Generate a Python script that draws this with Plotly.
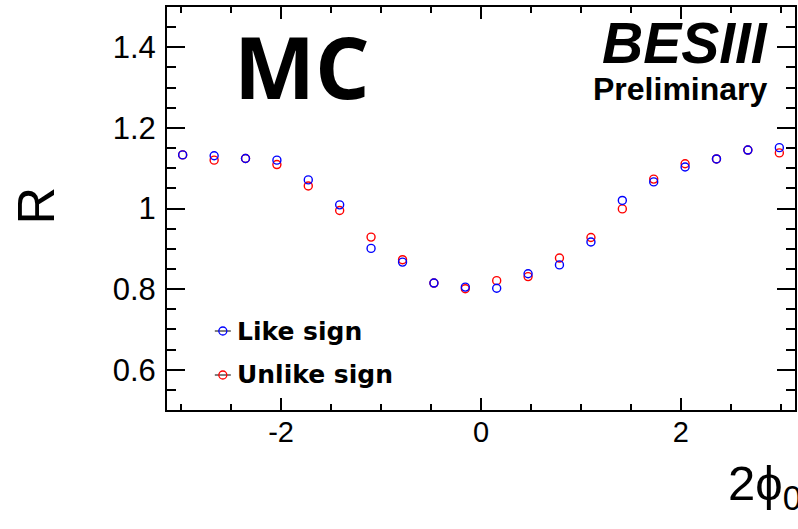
import plotly.graph_objects as go

# Bin centres of the 2*phi0 histogram (20 bins over [-pi, pi])
phi_centres = [-2.985, -2.670, -2.356, -2.042, -1.728, -1.414, -1.100, -0.785,
               -0.471, -0.157, 0.157, 0.471, 0.785, 1.100, 1.414, 1.728,
               2.042, 2.356, 2.670, 2.985]

# Ratio R for like-sign and unlike-sign pairs (MC)
r_like = [1.133, 1.131, 1.124, 1.120, 1.071, 1.009, 0.901, 0.867, 0.815, 0.805,
          0.802, 0.838, 0.860, 0.917, 1.020, 1.066, 1.103, 1.123, 1.145, 1.151]
r_unlike = [1.133, 1.120, 1.124, 1.109, 1.056, 0.995, 0.929, 0.873, 0.815, 0.801,
            0.821, 0.831, 0.877, 0.928, 0.999, 1.073, 1.111, 1.123, 1.145, 1.138]

x_tick_vals = [-2, 0, 2]
x_tick_text = ["-2", "0", "2"]
y_tick_vals = [0.6, 0.8, 1.0, 1.2, 1.4]
y_tick_text = ["0.6", "0.8", "1", "1.2", "1.4"]

PI = 3.141592653589793
W, H = 798, 529
L, R, T, B = 167, 1, 7, 119
PW, PH = W - L - R, H - T - B


def px(x):
    return (x - L) / PW


def py(y):
    return (H - B - y) / PH


fig = go.Figure()
fig.add_trace(go.Scatter(
    x=phi_centres, y=r_unlike, mode="markers", name="Unlike sign",
    marker=dict(symbol="circle-open", size=8, color="#ff0000",
                line=dict(width=1.4, color="#ff0000")),
    showlegend=False))
fig.add_trace(go.Scatter(
    x=phi_centres, y=r_like, mode="markers", name="Like sign",
    marker=dict(symbol="circle-open", size=8, color="#0000ff",
                line=dict(width=1.4, color="#0000ff")),
    showlegend=False))

axis_common = dict(
    showline=True, linewidth=2, linecolor="black", mirror="allticks",
    ticks="inside", tickwidth=2, tickcolor="black", showgrid=False,
    zeroline=False, tickmode="array",
)
fig.update_xaxes(
    range=[-PI, PI], tickvals=x_tick_vals, ticktext=x_tick_text, ticklen=12,
    tickfont=dict(family="Liberation Sans", size=29, color="black"),
    minor=dict(ticks="inside", dtick=0.5, tick0=0, ticklen=6, tickwidth=2,
               tickcolor="black"),
    ticklabelstandoff=-5,
    **axis_common)
fig.update_yaxes(
    range=[0.5, 1.5], tickvals=y_tick_vals, ticktext=y_tick_text, ticklen=18,
    tickfont=dict(family="Liberation Sans", size=31, color="black"),
    minor=dict(ticks="inside", dtick=0.05, tick0=0, ticklen=9, tickwidth=2,
               tickcolor="black"),
    ticklabelstandoff=3,
    **axis_common)

annotations = [
    dict(text="<b>MC</b>", x=px(302), y=py(65), xanchor="center", yanchor="middle",
         font=dict(family="Open Sans", size=86, color="black")),
    dict(text="<b><i>BESIII</i></b>", x=px(772), y=py(43), xanchor="right", yanchor="middle",
         font=dict(family="Liberation Sans", size=57, color="black")),
    dict(text="<b>Preliminary</b>", x=px(772), y=py(89), xanchor="right", yanchor="middle",
         font=dict(family="Liberation Sans", size=32, color="black")),
    dict(text="R", x=px(36), y=py(205), xanchor="center", yanchor="middle", textangle=-90,
         font=dict(family="Liberation Sans", size=52, color="black")),
    dict(text="2\u03d5<sub>0</sub>", x=px(728), y=py(487), xanchor="left", yanchor="middle",
         font=dict(family="Liberation Sans", size=49, color="black")),
    dict(text="<b>Like sign</b>", x=px(235), y=py(331), xanchor="left", yanchor="middle",
         font=dict(family="DejaVu Sans", size=25, color="black")),
    dict(text="<b>Unlike sign</b>", x=px(235), y=py(374), xanchor="left", yanchor="middle",
         font=dict(family="DejaVu Sans", size=25, color="black")),
]
for a in annotations:
    a.update(xref="paper", yref="paper", showarrow=False)

# Legend symbols: short black line with an open circle
shapes = []
for ycen, col in [(331, "#0000ff"), (375, "#ff0000")]:
    shapes.append(dict(type="line", xref="paper", yref="paper",
                       xsizemode="pixel", ysizemode="pixel",
                       xanchor=px(223), yanchor=py(ycen),
                       x0=-8, x1=8, y0=0, y1=0,
                       line=dict(color="black", width=1)))
    shapes.append(dict(type="circle", xref="paper", yref="paper",
                       xsizemode="pixel", ysizemode="pixel",
                       xanchor=px(223), yanchor=py(ycen),
                       x0=-4, x1=4, y0=-4, y1=4,
                       line=dict(color=col, width=1.3), fillcolor="rgba(0,0,0,0)"))

fig.update_layout(
    width=W, height=H, margin=dict(l=L, r=R, t=T, b=B),
    paper_bgcolor="white", plot_bgcolor="white",
    annotations=annotations, shapes=shapes,
)
fig.write_html("out.html")
